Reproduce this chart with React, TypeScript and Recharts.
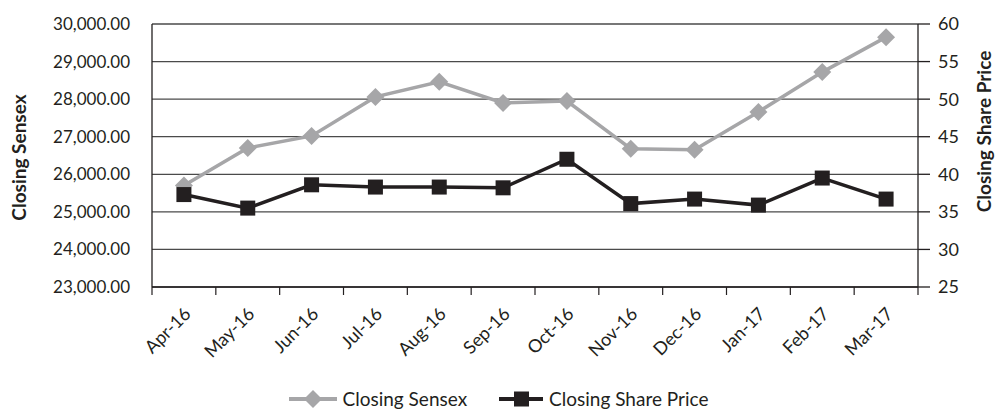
import React from "react"
import { LineChart, Line, XAxis, YAxis, CartesianGrid, Legend } from "recharts"

const months = ["Apr-16", "May-16", "Jun-16", "Jul-16", "Aug-16", "Sep-16", "Oct-16", "Nov-16", "Dec-16", "Jan-17", "Feb-17", "Mar-17"]
const sensex = [25700, 26700, 27020, 28060, 28460, 27900, 27950, 26680, 26650, 27660, 28720, 29650]
const sharePrice = [37.3, 35.5, 38.6, 38.3, 38.3, 38.2, 42.0, 36.1, 36.7, 35.9, 39.5, 36.7]
const sensexTicks = [23000, 24000, 25000, 26000, 27000, 28000, 29000, 30000]
const priceTicks = [25, 30, 35, 40, 45, 50, 55, 60]

const data = months.map((m, i) => ({ month: m, sensex: sensex[i], price: sharePrice[i] }))

const FONT = "Lato, 'Open Sans', sans-serif"
const INK = "#231f20"
const GRAY = "#a6a6a8"
const W = 997
const H = 415
const LEFT_W = 152
const RIGHT_W = 79
const STEP = (W - LEFT_W - RIGHT_W) / months.length
const PLOT_TOP = 24
const PLOT_BOTTOM = 287

const Diamond = (props: any) => {
  const { cx, cy } = props
  if (cx == null || cy == null) return null
  const r = 9
  return <path d={`M${cx},${cy - r}L${cx + r},${cy}L${cx},${cy + r}L${cx - r},${cy}Z`} fill={GRAY} />
}

const Square = (props: any) => {
  const { cx, cy } = props
  if (cx == null || cy == null) return null
  const s = 7.5
  return <rect x={cx - s} y={cy - s} width={s * 2} height={s * 2} fill={INK} />
}

const MonthTick = (props: any) => {
  const { x, y, payload, index } = props
  const last = index === months.length - 1
  return (
    <g>
      <line x1={x - STEP / 2} x2={x - STEP / 2} y1={y - 8} y2={y} stroke={INK} strokeWidth={1.2} />
      {last && <line x1={x + STEP / 2} x2={x + STEP / 2} y1={y - 8} y2={y} stroke={INK} strokeWidth={1.2} />}
      <text x={x + 8} y={y + 20} textAnchor="end" transform={`rotate(-45 ${x + 8} ${y + 20})`}
        fill={INK} fontSize={18} fontFamily={FONT}>
        {payload.value}
      </text>
    </g>
  )
}

// rotated axis titles, x is the text baseline
const axisTitle = (text: string, x: number, dy: number) => () => {
  const y = (PLOT_TOP + PLOT_BOTTOM) / 2 + dy
  return (
    <text x={x} y={y} textAnchor="middle" transform={`rotate(-90 ${x} ${y})`}
      fontWeight={700} fontSize={19} fontFamily={FONT} fill={INK}>
      {text}
    </text>
  )
}

const LegendContent = () => (
  <div style={{ display: "flex", justifyContent: "center", alignItems: "center", paddingTop: 12, fontFamily: FONT, fontSize: 19, color: INK }}>
    <svg width={50} height={20}>
      <line x1={0} x2={48} y1={10} y2={10} stroke={GRAY} strokeWidth={4} />
      <path d="M24,1L33,10L24,19L15,10Z" fill={GRAY} />
    </svg>
    <span style={{ marginLeft: 4, marginRight: 32 }}>Closing Sensex</span>
    <svg width={46} height={20}>
      <line x1={0} x2={44} y1={10} y2={10} stroke={INK} strokeWidth={4} />
      <rect x={15} y={2.5} width={15} height={15} fill={INK} />
    </svg>
    <span style={{ marginLeft: 4 }}>Closing Share Price</span>
  </div>
)

export default function App() {
  return (
    <div style={{ position: "fixed", left: 0, top: 0, width: W, height: H, background: "#fff" }}>
      <LineChart width={W} height={H} data={data} margin={{ top: PLOT_TOP, right: 0, bottom: 0, left: 0 }}>
        <CartesianGrid vertical={false} yAxisId="left" stroke="#4a4a4a" strokeWidth={1.3} />
        <XAxis dataKey="month" scale="band" height={88} tickLine={false} axisLine={{ stroke: INK, strokeWidth: 1.3 }}
          interval={0} tick={<MonthTick />} />
        <YAxis yAxisId="left" width={LEFT_W} domain={[23000, 30000]} ticks={sensexTicks}
          tickFormatter={(v: number) => v.toLocaleString("en-US", { minimumFractionDigits: 2, maximumFractionDigits: 2 })}
          tick={{ fill: INK, fontSize: 17, fontFamily: FONT }} tickSize={0} tickMargin={22} tickLine={false}
          axisLine={{ stroke: INK, strokeWidth: 1.3 }}
          label={{ content: axisTitle("Closing Sensex", 26, 2) }} />
        <YAxis yAxisId="right" orientation="right" width={RIGHT_W} domain={[25, 60]} ticks={priceTicks}
          tick={{ fill: INK, fontSize: 18, fontFamily: FONT }} tickSize={12} tickMargin={8}
          axisLine={{ stroke: INK, strokeWidth: 1.3 }} tickLine={{ stroke: INK, strokeWidth: 1.3 }}
          label={{ content: axisTitle("Closing Share Price", 991, -24) }} />
        <Legend verticalAlign="bottom" height={40} content={<LegendContent />} />
        <Line yAxisId="left" dataKey="sensex" name="Closing Sensex" stroke={GRAY} strokeWidth={3.5}
          dot={<Diamond />} activeDot={false} isAnimationActive={false} />
        <Line yAxisId="right" dataKey="price" name="Closing Share Price" stroke={INK} strokeWidth={3.5}
          dot={<Square />} activeDot={false} isAnimationActive={false} />
      </LineChart>
    </div>
  )
}
